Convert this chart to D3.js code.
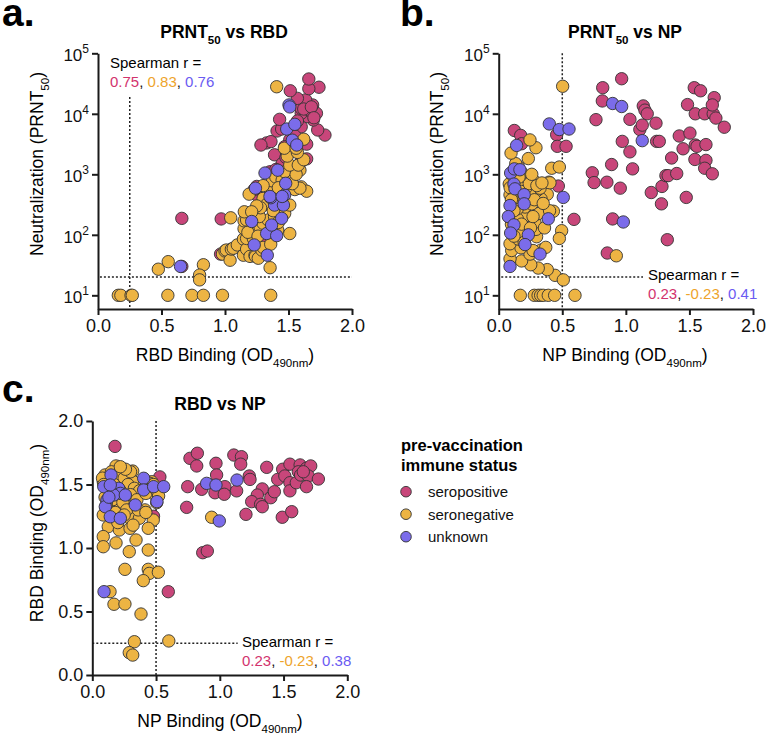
<!DOCTYPE html>
<html>
<head>
<meta charset="utf-8">
<script src="https://cdn.jsdelivr.net/npm/d3@7"></script>
<style>
    body { margin: 0; background: #fff; }
    svg { font-family: "Liberation Sans", Arial, Helvetica, sans-serif; }
</style>
</head>
<body>
<script>
"use strict";

// ---- data ----
const groups = ["seropositive", "seronegative", "unknown"];

// panel a: [RBD OD, PRNT50]
const prntRbdPos = [[0.66,187],[0.97,183],[0.965,48],[0.66,30],[1.33,80],[1.25,630],[1.25,455],[1.23,560],[1.41,700],[1.46,700],
    [1.354,1100],[1.42,910],[1.47,1050],[1.446,1400],[1.39,2100],[1.643,1800],[1.51,3700],[1.45,1500],[1.60,1630],[1.504,2250],
    [1.47,2860],[1.328,3300],[1.362,3470],[1.283,3050],[1.643,3150],[1.60,6100],[1.41,5200],[1.446,5600],[1.43,8100],[1.787,4450],
    [1.73,5400],[1.695,7900],[1.65,9000],[1.60,10200],[1.72,10200],[1.664,11500],[1.60,12300],[1.69,14000],[1.643,14000],[1.635,17000],
    [1.57,18000],[1.514,24000],[1.74,27500],[1.66,26000],[1.66,37600],[1.55,4300],[1.57,7600],[1.62,12000],[1.68,13000],[1.70,8600],
    [1.48,1900],[1.52,1250],[1.40,1200]];
const prntRbdNeg = [[0.16,10],[0.18,10],[0.26,10],[0.27,10],[0.55,10],[0.74,10],[0.83,10],[0.98,10],[1.36,10],
    [0.475,27],[0.553,36],[0.83,32],[0.80,21.6],[0.80,18],[1.355,28.6],[1.51,105],
    [0.98,48],[1.0,54],[1.01,56],[1.04,38],[1.05,58],[1.065,60],[1.097,68],[1.145,85],[1.145,46],[1.17,58],[1.17,87],[1.197,44],
    [1.223,87],[1.236,46],[1.24,44],[1.262,41],[1.29,56],[1.30,62],[1.36,70],
    [1.045,191],[1.15,126],[1.15,170],[1.17,176],[1.152,240],[1.228,226],[1.236,129],[1.276,135],[1.30,155],[1.34,176],[1.39,200],
    [1.47,226],[1.415,120],[1.51,310],[1.27,200],[1.30,400],[1.33,320],[1.28,280],[1.38,250],[1.44,350],[1.25,300],[1.21,240],
    [1.18,110],[1.26,95],[1.42,160],[1.36,550],
    [1.372,780],[1.19,470],[1.30,650],[1.40,900],[1.45,800],[1.52,650],[1.55,560],[1.60,620],[1.643,525],[1.59,590],[1.50,900],
    [1.42,600],[1.53,700],[1.47,1100],[1.59,1170],[1.56,1000],[1.51,1420],[1.577,1420],[1.62,1740],[1.49,2000],[1.57,2300],
    [1.467,2700],[1.56,2700],[1.62,3800],[1.407,28000]];
const prntRbdUnk = [[0.65,30],[1.23,68],[1.333,46],[1.21,166],[1.328,105],[1.407,97],[1.367,145],[1.446,187],[1.39,310],[1.46,310],
    [1.36,410],[1.24,590],[1.354,430],[1.47,455],[1.478,710],[1.315,1050],[1.415,1170],[1.53,3670],[1.565,3050],[1.486,5600],
    [1.55,6700],[1.504,14000],[1.51,13000],[1.45,430]];

// panel b: [NP OD, PRNT50]
const prntNpPos = [[0.967,38000],[0.818,27000],[0.815,16300],[0.765,8000],[1.032,8100],[1.137,13500],[1.15,11500],[1.168,10000],
    [1.11,5500],[1.129,6500],[1.237,7000],[1.242,3500],[1.263,3500],[0.972,3500],[1.032,2350],[1.053,1230],[0.888,1450],[0.736,1060],
    [0.75,730],[0.851,740],[0.956,590],[1.20,500],[1.284,630],[1.315,950],[1.333,950],[1.40,1030],[1.28,325],[1.475,415],[0.896,183],
    [1.326,83],[0.854,50],[1.36,1860],[1.42,4300],[1.45,2640],[1.504,4800],[1.485,14200],[1.538,27000],[1.588,24000],[1.546,10000],
    [1.62,10000],[1.687,10000],[1.695,18500],[1.68,14000],[1.708,8500],[1.774,6000],[1.546,3050],[1.56,2900],[1.63,3100],[1.543,1760],
    [1.63,1700],[1.62,1260],[1.68,1020],[0.592,180],[0.469,640],[0.456,4500],[0.461,2900],[0.53,2900],[0.123,5300],[0.173,4400],
    [0.18,3200]];
const prntNpNeg = [[0.17,10],[0.28,10],[0.31,10],[0.33,10],[0.35,10],[0.39,10],[0.44,10],[0.60,10],[0.503,28500],
    [0.443,21.4],[0.508,18],[0.382,26.6],[0.311,28.2],[0.252,32],[0.18,37],[0.089,40],[0.102,55],[0.246,48],[0.333,56],[0.175,61],
    [0.089,71],[0.154,85],[0.298,93],[0.293,123],[0.162,112],[0.495,117],[0.477,87],[0.22,209],[0.146,184],[0.285,162],[0.35,234],
    [0.43,245],[0.311,224],[0.207,288],[0.26,324],[0.146,269],[0.382,468],[0.333,394],[0.30,537],[0.246,468],[0.22,617],[0.089,457],
    [0.154,417],[0.083,692],[0.395,741],[0.325,589],[0.278,776],[0.215,923],[0.18,1070],[0.154,1350],[0.134,1500],[0.233,1820],
    [0.097,2240],[0.293,2750],[0.246,3700],[0.403,724],[0.417,1260],[0.477,1320],
    [0.10,150],[0.12,250],[0.18,150],[0.25,130],[0.27,200],[0.36,130],[0.40,250],[0.20,400],[0.28,380],[0.35,330],[0.15,650],
    [0.18,520],[0.24,700],[0.30,650],[0.12,900],[0.09,600],[0.16,900],[0.26,1000],[0.34,720],[0.10,380],[0.27,55],[0.37,62],
    [0.20,75],[0.12,95],[0.925,45]];
const prntNpUnk = [[0.896,14800],[0.967,13200],[1.129,3600],[0.98,163],[0.398,6800],[0.477,5500],[0.553,5600],[0.508,415],
    [0.141,3000],[0.094,1050],[0.123,1230],[0.167,1190],[0.12,690],[0.128,575],[0.20,460],[0.089,305],[0.20,325],[0.076,200],
    [0.12,146],[0.39,184],[0.094,107],[0.233,100],[0.207,69],[0.325,48],[0.089,30]];

// panel c: [NP OD, RBD OD]
const rbdNpPos = [[0.178,1.80],[0.53,1.56],[0.48,1.25],[0.596,0.656],[0.766,1.706],[0.824,1.746],[0.819,1.646],[0.748,1.483],
    [0.74,1.32],[0.858,1.462],[0.97,1.667],[0.975,1.575],[0.962,1.435],[1.04,1.483],[1.035,1.423],[1.132,1.45],[1.11,1.732],
    [1.17,1.719],[1.164,1.66],[1.231,1.567],[1.237,1.54],[1.205,1.265],[1.368,1.635],[1.333,1.465],[1.294,1.417],[1.25,1.365],
    [1.32,1.344],[1.333,1.325],[1.40,1.396],[1.428,1.443],[1.454,1.54],[1.493,1.62],[1.51,1.567],[1.55,1.66],[1.55,1.514],
    [1.55,1.45],[1.49,1.242],[1.564,1.286],[1.60,1.514],[1.63,1.654],[1.616,1.60],[1.634,1.575],[1.68,1.628],[1.713,1.646],
    [1.694,1.567],[1.68,1.483],[1.773,1.543],[1.655,1.60],[0.866,0.963],[0.902,0.976]];
const rbdNpNeg = [[0.186,1.646],[0.243,1.614],[0.317,1.606],[0.10,1.575],[0.086,1.522],[0.322,1.522],[0.40,1.483],[0.466,1.522],
    [0.492,1.417],[0.505,1.357],[0.413,1.30],[0.309,1.352],[0.217,1.325],[0.139,1.30],[0.086,1.26],[0.152,1.234],[0.296,1.234],
    [0.369,1.234],[0.478,1.22],[0.125,1.168],[0.212,1.142],[0.296,1.155],[0.439,1.155],[0.086,1.09],[0.086,1.01],[0.186,1.04],
    [0.343,1.063],[0.29,0.971],[0.439,0.984],[0.256,0.832],[0.439,0.832],[0.447,0.80],[0.518,0.809],[0.40,0.743],[0.139,0.656],
    [0.17,0.557],[0.256,0.559],[0.382,0.48],[0.33,0.262],[0.60,0.268],[0.29,0.176],[0.317,0.157],[0.936,1.242],
    [0.12,1.55],[0.15,1.60],[0.20,1.58],[0.25,1.55],[0.28,1.50],[0.33,1.47],[0.37,1.45],[0.13,1.45],[0.16,1.38],[0.24,1.36],
    [0.27,1.30],[0.18,1.28],[0.30,1.42],[0.35,1.38],[0.42,1.43],[0.45,1.51],[0.48,1.50],[0.50,1.46],[0.52,1.41],[0.20,1.20],
    [0.25,1.26],[0.22,1.45],[0.10,1.40],[0.08,1.55],[0.09,1.50],[0.30,1.60],[0.26,1.62],[0.22,1.64],[0.36,1.30],[0.42,1.28],
    [0.32,1.18],[0.17,1.50],[0.11,1.34]];
const rbdNpUnk = [[0.897,1.509],[0.97,1.496],[1.135,1.535],[0.996,1.213],[0.092,0.656],[0.147,1.575],[0.09,1.483],[0.207,1.47],
    [0.22,1.43],[0.168,1.417],[0.115,1.378],[0.102,1.325],[0.259,1.417],[0.337,1.339],[0.141,1.246],[0.22,1.234],[0.403,1.549],
    [0.403,1.457],[0.481,1.483],[0.56,1.483],[0.507,1.365],[0.141,1.496],[0.13,1.40]];

const spearmanA = ["0.75", "0.83", "0.76"];
const spearmanB = ["0.23", "-0.23", "0.41"];
const spearmanC = ["0.23", "-0.23", "0.38"];

const prntCutoff = 20;
const rbdCutoff = 0.25;
const npCutoff = 0.5;

const xTicks = [0, 0.5, 1, 1.5, 2];
const logTicks = [10, 100, 1000, 10000, 100000];
const linTicks = [0, 0.5, 1, 1.5, 2];

// ---- styles ----
const fillColors = ["#C8467A", "#EDB443", "#7B6CEA"];
const textColors = ["#D2336D", "#EEA42C", "#6A5BF2"];

const svg = d3.select("body").append("svg").attr("width", 766).attr("height", 736);

// text with subscript parts: [["text"], ["sub", "sub"]]
function rich(sel, parts, size) {
    parts.forEach((p, i) => {
        const ts = sel.append("tspan").text(p[0]);
        if (p[1] === "sub") {
            ts.attr("font-size", size * 0.66).attr("dy", size * 0.32);
        } else if (i > 0 && parts[i - 1][1] === "sub") {
            ts.attr("dy", -size * 0.32);
        }
    });
    return sel;
}

function drawPanel(cfg) {
    const x = d3.scaleLinear().domain([0, 2]).range([cfg.left, cfg.right]);
    const y = cfg.log
        ? d3.scaleLog().domain([5.94, 1e5]).range([cfg.bottom, cfg.top])
        : d3.scaleLinear().domain([0, 2]).range([cfg.bottom, cfg.top]);
    const g = svg.append("g");

    // letter + title
    g.append("text").attr("x", cfg.letterX).attr("y", cfg.letterY)
        .attr("font-size", 39).attr("font-weight", "bold").text(cfg.letter);
    rich(g.append("text").attr("x", cfg.titleX).attr("y", cfg.titleY)
        .attr("text-anchor", "middle").attr("font-size", 17.5).attr("font-weight", "bold"), cfg.title, 17.5);

    // reference lines
    const dots = g.append("g").attr("stroke", "#222").attr("stroke-width", 1.5).attr("stroke-dasharray", "2,2");
    cfg.hLine && dots.append("line")
        .attr("x1", x(cfg.hLine[1])).attr("x2", x(cfg.hLine[2]))
        .attr("y1", y(cfg.hLine[0])).attr("y2", y(cfg.hLine[0]));
    cfg.vLine && dots.append("line")
        .attr("x1", x(cfg.vLine[0])).attr("x2", x(cfg.vLine[0]))
        .attr("y1", y(cfg.vLine[1])).attr("y2", cfg.bottom);

    // points
    cfg.series.forEach((data, k) => {
        g.append("g").selectAll("circle").data(data).enter().append("circle")
            .attr("cx", d => x(d[0])).attr("cy", d => y(d[1])).attr("r", 6.2)
            .attr("fill", fillColors[k]).attr("stroke", "#333").attr("stroke-width", 0.9);
    });

    // axes
    const xAxis = d3.axisBottom(x).tickValues(xTicks).tickFormat(d3.format(".1f")).tickSize(6).tickSizeOuter(0).tickPadding(4);
    const gx = g.append("g").attr("transform", "translate(0," + cfg.bottom + ")").call(xAxis);
    let yAxis;
    if (cfg.log) {
        yAxis = d3.axisLeft(y).tickValues(logTicks).tickFormat(() => "10");
    } else {
        yAxis = d3.axisLeft(y).tickValues(linTicks).tickFormat(d3.format(".1f"));
    }
    yAxis.tickSize(6).tickSizeOuter(0).tickPadding(3);
    const gy = g.append("g").attr("transform", "translate(" + cfg.left + ",0)").call(yAxis);
    [gx, gy].forEach(ax => {
        ax.selectAll("path, line").attr("stroke", "#1a1a1a").attr("stroke-width", 2);
        ax.selectAll("text").attr("font-size", 18).attr("fill", "#111")
            .attr("font-family", "'Liberation Sans', Arial, sans-serif");
    });
    if (cfg.log) {
        gy.selectAll(".tick text").attr("font-size", 17).attr("dy", "0.45em").each(function (d) {
            d3.select(this).append("tspan").attr("dy", -8).attr("font-size", 12)
                .text(Math.round(Math.log10(d)));
        });
    }

    // axis titles
    rich(g.append("text").attr("x", cfg.xLabelX).attr("y", cfg.xLabelY)
        .attr("text-anchor", "middle").attr("font-size", 17.5), cfg.xLabel, 17.5);
    rich(g.append("text")
        .attr("transform", "translate(" + cfg.yLabelX + "," + cfg.yLabelY + ") rotate(-90)")
        .attr("text-anchor", "middle").attr("font-size", 17.5), cfg.yLabel, 17.5);

    // spearman note
    g.append("text").attr("x", cfg.noteX).attr("y", cfg.noteY).attr("font-size", 15).text("Spearman r =");
    const t2 = g.append("text").attr("x", cfg.noteX).attr("y", cfg.noteY + 19).attr("font-size", 15);
    cfg.spearman.forEach((v, k) => {
        t2.append("tspan").attr("fill", textColors[k]).text(v);
        if (k < 2) t2.append("tspan").attr("fill", "#111").text(", ");
    });
}

const prntLabel = [["Neutralization (PRNT"], ["50", "sub"], [")"]];

drawPanel({
    letter: "a.", letterX: 2, letterY: 26,
    title: [["PRNT"], ["50", "sub"], [" vs RBD"]], titleX: 224, titleY: 38,
    left: 98, right: 352, top: 53.3, bottom: 309, log: true,
    series: [prntRbdPos, prntRbdNeg, prntRbdUnk],
    hLine: [prntCutoff, 0.015, 2], vLine: [rbdCutoff, 19000],
    xLabel: [["RBD Binding (OD"], ["490nm", "sub"], [")"]], xLabelX: 225, xLabelY: 361,
    yLabel: prntLabel, yLabelX: 43, yLabelY: 164,
    noteX: 110, noteY: 68, spearman: spearmanA
});

drawPanel({
    letter: "b.", letterX: 400, letterY: 26,
    title: [["PRNT"], ["50", "sub"], [" vs NP"]], titleX: 625, titleY: 38,
    left: 498.7, right: 753, top: 53.3, bottom: 309, log: true,
    series: [prntNpPos, prntNpNeg, prntNpUnk],
    hLine: [prntCutoff, 0.02, 1.135], vLine: [npCutoff, 1e5],
    xLabel: [["NP Binding (OD"], ["490nm", "sub"], [")"]], xLabelX: 625, xLabelY: 361,
    yLabel: prntLabel, yLabelX: 443, yLabelY: 164,
    noteX: 648, noteY: 280, spearman: spearmanB
});

drawPanel({
    letter: "c.", letterX: 2, letterY: 402,
    title: [["RBD vs NP"]], titleX: 220, titleY: 410,
    left: 92.3, right: 347.3, top: 421, bottom: 675, log: false,
    series: [rbdNpPos, rbdNpNeg, rbdNpUnk],
    hLine: [rbdCutoff, 0, 1.14], vLine: [npCutoff, 2],
    xLabel: [["NP Binding (OD"], ["490nm", "sub"], [")"]], xLabelX: 220, xLabelY: 727,
    yLabel: [["RBD Binding (OD"], ["490nm", "sub"], [")"]], yLabelX: 43, yLabelY: 533,
    noteX: 242, noteY: 647, spearman: spearmanC
});

// legend
const leg = svg.append("g");
leg.append("text").attr("x", 401).attr("y", 451).attr("font-size", 16.5).attr("font-weight", "bold").text("pre-vaccination");
leg.append("text").attr("x", 401).attr("y", 471).attr("font-size", 16.5).attr("font-weight", "bold").text("immune status");
groups.forEach((name, k) => {
    const cy = 491.7 + k * 22.5;
    leg.append("circle").attr("cx", 406).attr("cy", cy).attr("r", 5.3)
        .attr("fill", fillColors[k]).attr("stroke", "#333").attr("stroke-width", 0.9);
    leg.append("text").attr("x", 428).attr("y", cy + 5.5).attr("font-size", 15).attr("fill", "#111").text(name);
});
</script>
</body>
</html>
